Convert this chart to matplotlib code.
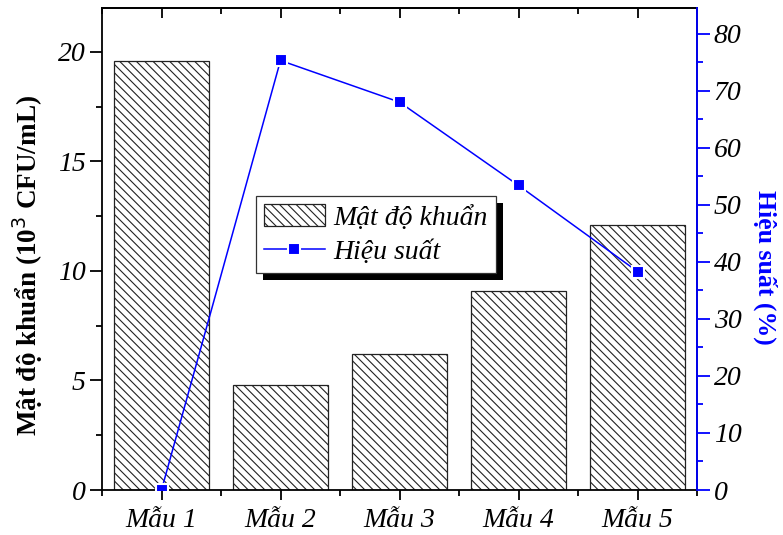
import matplotlib
matplotlib.use("Agg")
import matplotlib.pyplot as plt
from matplotlib.ticker import MultipleLocator
from matplotlib.patches import Rectangle, Patch
from matplotlib.lines import Line2D
import numpy as np

categories = ["Mẫu 1", "Mẫu 2", "Mẫu 3", "Mẫu 4", "Mẫu 5"]
density = [19.6, 4.8, 6.2, 9.1, 12.1]
efficiency = [0.0, 75.3, 68.0, 53.4, 38.3]

plt.rcParams['font.family'] = ['Liberation Serif', 'DejaVu Serif']
plt.rcParams['hatch.linewidth'] = 0.8

fig = plt.figure(figsize=(7.83, 5.35), dpi=100)
ax = fig.add_axes([102/783, 45/535, 595/783, 482/535])
x = np.arange(len(categories))

ax.bar(x, density, width=0.8, color='white', edgecolor='#222222',
       linewidth=0.9, hatch='\\\\\\\\', zorder=1)
ax.set_xlim(-0.5, 4.5)
ax.set_ylim(0, 22)
ax.set_xticks(x)
ax.set_xticklabels(categories, fontsize=20, style='italic')
ax.xaxis.set_minor_locator(MultipleLocator(0.5))
ax.yaxis.set_major_locator(MultipleLocator(5))
ax.yaxis.set_minor_locator(MultipleLocator(2.5))
ax.tick_params(axis='y', which='major', direction='out', length=9, width=1.3, labelsize=20, pad=3)
ax.tick_params(axis='y', which='minor', direction='out', length=4.5, width=1.3)
ax.tick_params(axis='x', which='major', direction='out', length=7, width=1.3, pad=6)
ax.tick_params(axis='x', which='minor', direction='out', length=4, width=1.3)
for lab in ax.get_yticklabels():
    lab.set_fontstyle('italic')
for sp in ax.spines.values():
    sp.set_linewidth(1.3)
ax.set_ylabel("Mật độ khuẩn (10$^{3}$ CFU/mL)", fontsize=19.5, fontweight='bold')
ax.yaxis.set_label_coords(-0.096, 0.466)

# top ticks inward
ax2top = ax.secondary_xaxis('top')
ax2top.set_xticks(x)
ax2top.set_xticklabels([])
ax2top.xaxis.set_minor_locator(MultipleLocator(0.5))
ax2top.tick_params(which='major', direction='in', length=7, width=1.3)
ax2top.tick_params(which='minor', direction='in', length=4, width=1.3)
ax2top.spines['top'].set_linewidth(1.3)

axr = ax.twinx()
axr.plot(x, efficiency, color='blue', linewidth=1.1, marker='s', markersize=8,
         markerfacecolor='blue', markeredgecolor='white', markeredgewidth=1.5, zorder=3)
axr.set_ylim(0, 84.5)
axr.yaxis.set_major_locator(MultipleLocator(10))
axr.yaxis.set_minor_locator(MultipleLocator(5))
axr.tick_params(axis='y', which='major', direction='out', length=9, width=1.3,
                colors='blue', labelcolor='black', labelsize=20, pad=3)
axr.tick_params(axis='y', which='minor', direction='out', length=4.5, width=1.3, colors='blue')
for lab in axr.get_yticklabels():
    lab.set_fontstyle('italic')
axr.spines['right'].set_color('blue')
axr.spines['right'].set_linewidth(1.3)
for s in ['left', 'top', 'bottom']:
    axr.spines[s].set_visible(False)
axr.set_ylabel("Hiệu suất (%)", fontsize=18.5, fontweight='bold', color='blue',
               rotation=270, va='bottom')
axr.yaxis.set_label_coords(1.094, 0.462)

handles = [Patch(facecolor='white', edgecolor='#222222', hatch='\\\\\\\\', linewidth=0.9),
           Line2D([0], [0], color='blue', linewidth=1.1, marker='s', markersize=8,
                  markerfacecolor='blue', markeredgecolor='white', markeredgewidth=1.5)]
leg = axr.legend(handles, ["Mật độ khuẩn", "Hiệu suất"], loc='upper left',
                 bbox_to_anchor=(0.258, 0.61), frameon=True, fancybox=False,
                 framealpha=1, prop={'size': 20, 'style': 'italic'}, handlelength=2.2,
                 handleheight=0.8, borderpad=0.3, labelspacing=0.28,
                 handletextpad=0.3, borderaxespad=0)
leg.get_frame().set_edgecolor('#333333')
leg.get_frame().set_linewidth(0.9)
leg.set_zorder(10)

fig.canvas.draw()
bb = leg.get_window_extent()
inv = fig.transFigure.inverted()
(x0, y0), (x1, y1) = inv.transform([[bb.x0 + 7, bb.y0 - 7], [bb.x1 + 7, bb.y1 - 7]])
shadow = Rectangle((x0, y0), x1 - x0, y1 - y0, transform=fig.transFigure,
                   facecolor='black', edgecolor='none', zorder=9)
axr.add_artist(shadow)
shadow.set_transform(fig.transFigure)

fig.savefig("out.png", dpi=100)
